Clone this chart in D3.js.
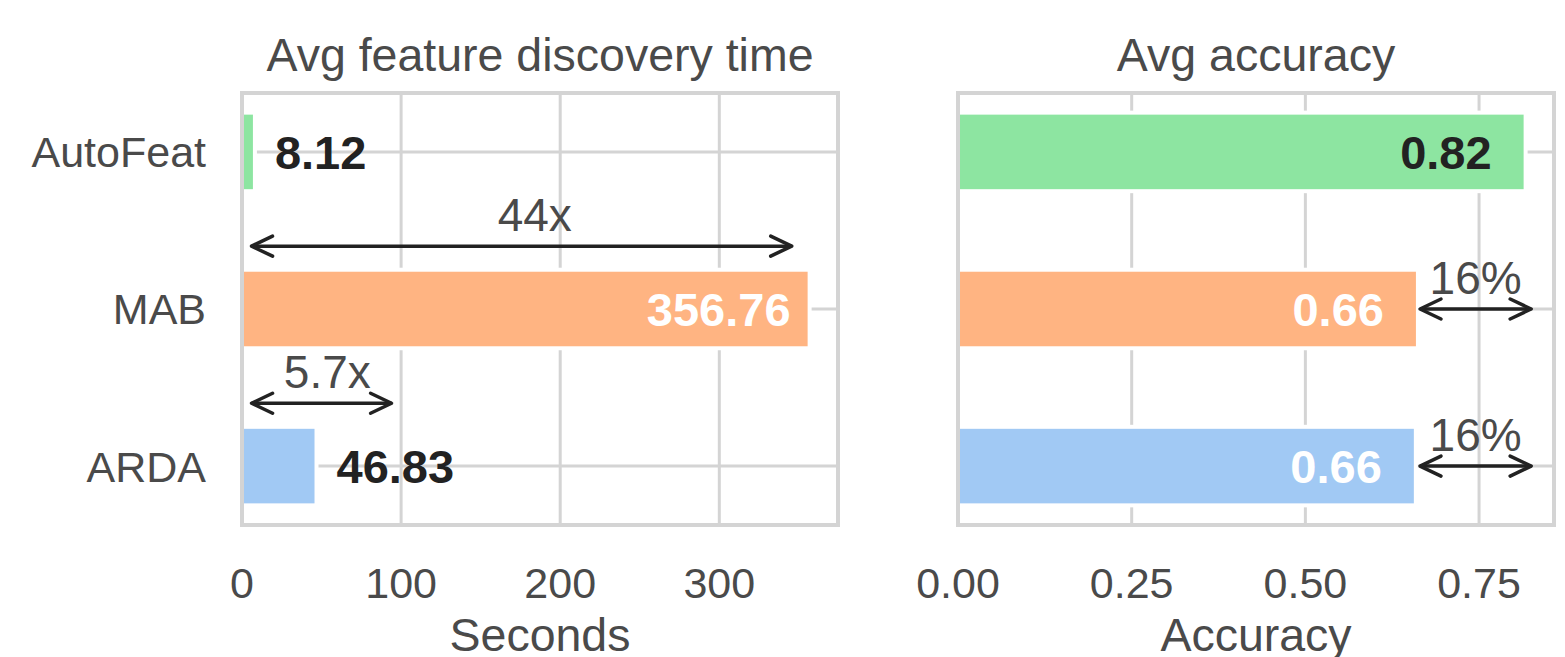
<!DOCTYPE html>
<html>
<head>
<meta charset="utf-8">
<script src="https://cdn.jsdelivr.net/npm/d3@7"></script>
<style>
  html, body { margin: 0; padding: 0; background: #fff; }
  svg { display: block; font-family: "Liberation Sans", Arial, sans-serif; }
</style>
</head>
<body>
<svg id="chart" width="1565" height="657"></svg>
<script>
// ---- data ----
const categories = ["AutoFeat", "MAB", "ARDA"];
const timeValues = [8.12, 356.76, 46.83];
const accValues = [0.817, 0.662, 0.659];
const timeTicks = [0, 100, 200, 300];
const accTicks = [0, 0.25, 0.5, 0.75];
const barColors = ["#8de5a1", "#ffb482", "#a1c9f4"];
const panelTitles = ["Avg feature discovery time", "Avg accuracy"];
const axisLabels = ["Seconds", "Accuracy"];
// annotation arrows: label, x from, x to, arrow row, text x, text row (data units)
const timeArrowLabels = ["44x", "5.7x"];
const timeArrowFrom = [6, 6];
const timeArrowTo = [345.5, 94];
const timeArrowRow = [0.6, 1.6];
const timeArrowTextX = [184, 53.6];
const timeArrowTextRow = [0.4, 1.4];
const accArrowLabels = ["16%", "16%"];
const accArrowFrom = [0.665, 0.665];
const accArrowTo = [0.825, 0.825];
const accArrowRow = [1, 2];
const accArrowTextX = [0.745, 0.745];
const accArrowTextRow = [0.8, 1.8];

// ---- layout ----
const svg = d3.select("#chart");
const plotTop = 93, plotBottom = 525;
const panels = [
  { x0: 242, x1: 838, values: timeValues, ticks: timeTicks, fmt: d3.format("d"),
    title: panelTitles[0], label: axisLabels[0],
    arrows: timeArrowLabels.map((l, i) => ({ l, a: timeArrowFrom[i], b: timeArrowTo[i], r: timeArrowRow[i], tx: timeArrowTextX[i], tr: timeArrowTextRow[i] })),
    yLabels: true },
  { x0: 958, x1: 1554, values: accValues, ticks: accTicks, fmt: d3.format(".2f"),
    title: panelTitles[1], label: axisLabels[1],
    arrows: accArrowLabels.map((l, i) => ({ l, a: accArrowFrom[i], b: accArrowTo[i], r: accArrowRow[i], tx: accArrowTextX[i], tr: accArrowTextRow[i] })),
    yLabels: false }
];

const y = d3.scaleLinear().domain([-0.375, 2.375]).range([plotTop, plotBottom]);
const gridColor = "#d4d4d4";
const textColor = "#4a4a4a";
const darkText = "#222222";

panels.forEach((p, pi) => {
  const x = d3.scaleLinear().domain([0, d3.max(p.values) * 1.05]).range([p.x0, p.x1]);
  const g = svg.append("g");

  // grid (vertical)
  g.selectAll(".vg").data(p.ticks).join("line")
    .attr("x1", d => x(d)).attr("x2", d => x(d))
    .attr("y1", plotTop).attr("y2", plotBottom)
    .attr("stroke", gridColor).attr("stroke-width", 3);
  // grid (horizontal at categories)
  g.selectAll(".hg").data(categories).join("line")
    .attr("x1", p.x0).attr("x2", p.x1)
    .attr("y1", (d, i) => y(i)).attr("y2", (d, i) => y(i))
    .attr("stroke", gridColor).attr("stroke-width", 3);

  // bars
  g.selectAll(".bar").data(p.values).join("rect")
    .attr("x", x(0))
    .attr("y", (d, i) => y(i - 0.25))
    .attr("width", d => x(d) - x(0))
    .attr("height", y(0.5) - y(0))
    .attr("fill", (d, i) => barColors[i])
    .attr("stroke", "#fff").attr("stroke-width", 4);

  // frame
  g.append("rect")
    .attr("x", p.x0).attr("y", plotTop)
    .attr("width", p.x1 - p.x0).attr("height", plotBottom - plotTop)
    .attr("fill", "none").attr("stroke", gridColor).attr("stroke-width", 4);

  // x tick labels
  g.selectAll(".xt").data(p.ticks).join("text")
    .attr("x", d => x(d)).attr("y", 598)
    .attr("text-anchor", "middle")
    .attr("font-size", 43).attr("fill", textColor)
    .text(d => p.fmt(d));

  // axis label
  g.append("text")
    .attr("x", (p.x0 + p.x1) / 2).attr("y", 651)
    .attr("text-anchor", "middle")
    .attr("font-size", 46.5).attr("fill", textColor)
    .text(p.label);

  // title
  g.append("text")
    .attr("x", (p.x0 + p.x1) / 2).attr("y", 71)
    .attr("text-anchor", "middle")
    .attr("font-size", 46.5).attr("fill", textColor)
    .text(p.title);

  // y tick labels
  if (p.yLabels) {
    g.selectAll(".yt").data(categories).join("text")
      .attr("x", 206).attr("y", (d, i) => y(i))
      .attr("dy", "0.36em")
      .attr("text-anchor", "end")
      .attr("font-size", 43).attr("fill", textColor)
      .text(d => d);
  }

  // value labels
  g.selectAll(".vl").data(p.values).join("text")
    .each(function (d, i) {
      const t = d3.select(this);
      let inside, color, pad;
      if (pi === 0) {
        inside = d > 100;
        color = inside ? "#ffffff" : darkText;
        pad = inside ? 19 : 20;
      } else {
        inside = true;
        color = i === 0 ? darkText : "#ffffff";
        pad = 34;
      }
      t.attr("x", inside ? x(d) - pad : x(d) + pad)
        .attr("y", y(i)).attr("dy", "0.36em")
        .attr("text-anchor", inside ? "end" : "start")
        .attr("font-size", 47).attr("font-weight", "bold")
        .attr("fill", color)
        .text(d3.format(".2f")(d));
    });

  // annotation arrows
  const L = 21, W = 10;
  p.arrows.forEach(a => {
    const xa = x(a.a), xb = x(a.b), yy = y(a.r);
    g.append("line").attr("x1", xa).attr("x2", xb).attr("y1", yy).attr("y2", yy)
      .attr("stroke", darkText).attr("stroke-width", 3.5);
    g.append("path")
      .attr("d", `M${xa + L},${yy - W}L${xa},${yy}L${xa + L},${yy + W}`)
      .attr("fill", "none").attr("stroke", darkText).attr("stroke-width", 3.5)
      .attr("stroke-linecap", "round").attr("stroke-linejoin", "round");
    g.append("path")
      .attr("d", `M${xb - L},${yy - W}L${xb},${yy}L${xb - L},${yy + W}`)
      .attr("fill", "none").attr("stroke", darkText).attr("stroke-width", 3.5)
      .attr("stroke-linecap", "round").attr("stroke-linejoin", "round");
    g.append("text")
      .attr("x", x(a.tx)).attr("y", y(a.tr)).attr("dy", "0.36em")
      .attr("text-anchor", "middle")
      .attr("font-size", 46).attr("fill", textColor)
      .text(a.l);
  });
});
</script>
</body>
</html>
